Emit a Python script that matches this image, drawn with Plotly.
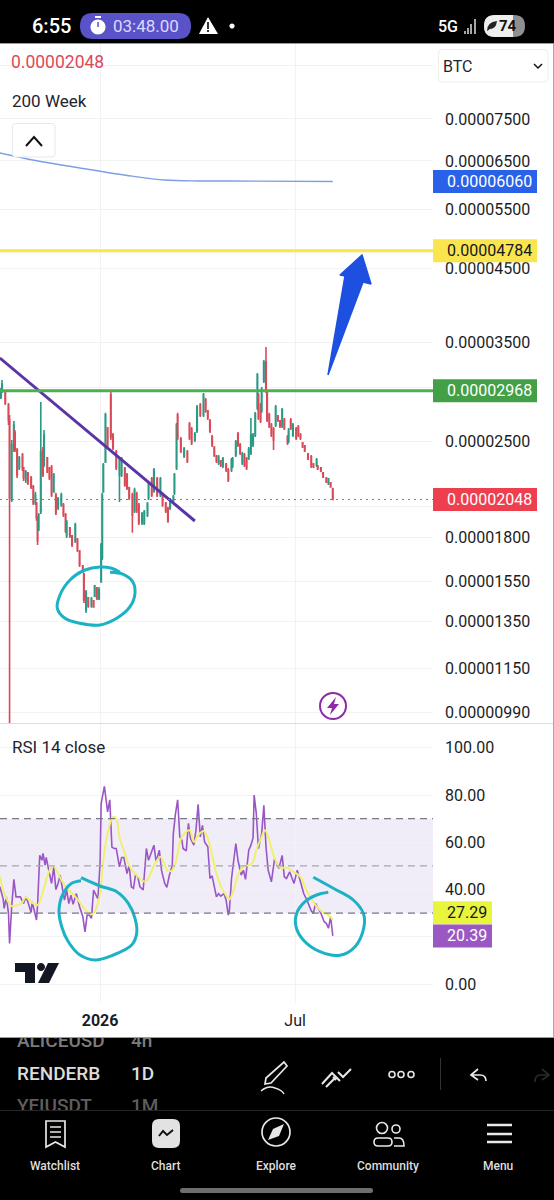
import math
import pandas as pd
import plotly.graph_objects as go

# ---- price data, in units of 0.00000001 BTC ----
candle_day = [-92,-91,-88,-85,-84,-82,-80,-79,-77,-75,
 -72,-71,-69,-67,-64,-62,-60,-59,-58,-57,
 -55,-53,-52,-49,-47,-45,-43,-41,-39,-36,
 -34,-32,-31,-28,-26,-23,-21,-19,-16,-15,
 -13,-11,-8,-6,-5,-3,-1,1,2,3,
 5,7,10,12,15,18,20,23,25,27,
 30,32,34,36,39,41,44,45,48,50,
 53,56,58,61,63,65,68,69,71,72,
 75,78,81,83,85,88,90,93,96,98,
 100,102,104,106,108,110,112,114,117,119,
 122,123,126,128,130,132,134,136,138,140,
 142,144,146,147,149,150,152,154,155,157,
 159,161,163,165,167,169,171,174,175,177,
 179,182,184,186,188,190,193,196,198,201,
 202,205,207,210,212,214,216]
candle_open = [2905,2955,2955,2827,2686,2045,2442,2570,2425,2281,
 2384,2281,2189,2242,2204,2138,2024,2024,1923,1846,
 1963,2425,2304,2360,2281,2288,2102,2080,1990,2010,
 2010,1943,1809,1859,1809,1778,1790,1718,1632,1588,
 1405,1464,1424,1449,1473,1514,1459,1546,1678,2102,
 2328,2614,2925,2552,2409,2227,2227,2281,2227,2131,
 2080,1969,2087,2010,1891,1891,1943,2059,2197,2109,
 2197,2080,2080,2024,1983,1990,2038,2095,2281,2733,
 2517,2376,2409,2650,2605,2509,2587,2827,2733,2876,
 2771,2686,2535,2450,2376,2320,2336,2296,2312,2265,
 2265,2296,2384,2561,2467,2320,2384,2352,2360,2400,
 2467,2552,2799,2925,2827,2771,3069,3274,2955,2733,
 2641,2605,2641,2724,2677,2632,2686,2535,2501,2686,
 2552,2605,2623,2552,2484,2459,2392,2368,2312,2304,
 2296,2281,2242,2204,2160,2167,2123]
candle_high = [2996,3079,2976,2847,2733,2509,2677,2596,2442,2376,
 2400,2288,2265,2250,2219,2152,2102,2031,1936,1956,
 2857,2450,2596,2368,2288,2304,2242,2095,2066,2095,
 2024,1956,1910,1865,1815,1891,1796,1724,1638,1594,
 1504,1469,1469,1454,1530,1519,1519,1766,2095,2320,
 2752,2623,2976,2570,2425,2368,2368,2288,2242,2138,
 2095,2131,2102,2024,1963,1976,2031,2174,2212,2281,
 2212,2212,2095,2031,1997,2059,2080,2242,2659,2752,
 2535,2450,2425,2668,2623,2578,2827,2847,2945,2896,
 2780,2686,2552,2450,2384,2384,2344,2368,2320,2281,
 2360,2368,2509,2578,2484,2409,2400,2368,2450,2705,
 2570,2761,3154,2945,2847,3006,3296,3446,2976,2752,
 2659,2623,2827,2733,2686,2799,2705,2552,2614,2705,
 2659,2623,2641,2570,2492,2467,2400,2384,2320,2360,
 2304,2288,2250,2212,2204,2174,2131]
candle_low = [2886,2945,2827,2641,900,2031,2409,2409,2204,2265,
 2257,2182,2167,2152,2123,2010,2010,1904,1754,1840,
 1949,2212,2288,2242,2189,2066,2095,1943,1976,1997,
 1930,1828,1796,1796,1742,1766,1712,1627,1594,1439,
 1391,1415,1415,1415,1469,1454,1454,1541,1666,2095,
 2320,2450,2509,2425,2265,2031,2212,2138,2116,2045,
 1828,1956,1956,1878,1878,1878,1930,2045,2066,2095,
 2066,2066,1997,1956,1891,1976,2024,2080,2265,2509,
 2400,2360,2320,2509,2467,2492,2570,2714,2714,2752,
 2686,2570,2450,2368,2320,2304,2288,2281,2250,2174,
 2250,2281,2368,2450,2384,2304,2288,2265,2344,2384,
 2450,2535,2780,2686,2659,2752,3048,2945,2668,2614,
 2535,2425,2623,2668,2614,2614,2596,2467,2484,2596,
 2535,2509,2535,2509,2442,2409,2344,2281,2281,2288,
 2265,2250,2204,2167,2152,2131,2048]
candle_close = [2955,3037,2847,2686,2059,2467,2641,2425,2227,2360,
 2281,2204,2250,2167,2138,2024,2080,1923,1778,1943,
 2409,2227,2552,2250,2204,2080,2227,1956,2052,2080,
 1943,1840,1897,1809,1754,1878,1724,1638,1599,1454,
 1494,1424,1459,1419,1525,1464,1504,1754,2080,2304,
 2733,2467,2535,2442,2281,2352,2352,2152,2131,2059,
 1943,2116,1969,1891,1949,1963,2017,2160,2080,2265,
 2080,2197,2010,1969,1904,2045,2066,2227,2641,2526,
 2417,2433,2336,2526,2484,2561,2808,2733,2925,2771,
 2705,2587,2467,2384,2336,2368,2304,2352,2265,2189,
 2344,2352,2492,2467,2400,2392,2304,2281,2433,2552,
 2552,2743,3132,2705,2677,2986,3274,2966,2686,2632,
 2552,2509,2808,2686,2632,2780,2614,2484,2596,2614,
 2641,2526,2552,2526,2450,2417,2352,2296,2288,2344,
 2273,2257,2212,2174,2197,2138,2048]

ma200_day = [-93,-60,-20,30,60,90,120,216]
ma200_val = [6680,6510,6350,6170,6090,6070,6070,6060]

trend_day = [-93,88]
trend_val = [3318,1903]

# ---- RSI data ----
rsi_day = [-93,-90,-89,-87,-85,-84,-82,-80,-78,-76,-74,-71,-69,-67,-64,-63,-61,-59,-58,-56,-54,-53,-51,-50,-47,-45,-43,-41,-39,-37,-35,-33,-31,-29,-27,-25,-22,-20,-19,-16,-14,-12,-10,-8,-6,-3,-2,0,1,4,7,9,11,13,15,18,20,22,25,27,29,31,33,35,37,40,43,45,47,50,52,55,57,
 60,62,64,67,68,70,72,74,76,77,80,82,84,87,89,91,93,95,97,100,102,104,106,108,110,112,115,117,119,120,122,124,126,128,131,133,135,138,140,142,143,145,147,150,152,154,156,159,162,166,169,171,173,176,178,180,183,186,189,192,194,196,198,200,203,205,208,210,212,214,216]
rsi_val = [41.2,36.2,32.0,36.9,29.9,17.2,33.0,44.3,36.9,36.9,36.9,34.1,36.9,34.8,30.3,34.8,30.2,27.1,33.4,54.5,52.4,55.3,50.3,53.6,46.8,42.6,49.6,40.0,42.6,46.1,40.5,35.5,39.8,34.1,37.6,33.8,38.3,34.1,32.7,28.5,22.1,29.2,29.2,27.8,39.8,36.9,36.2,51.0,76.4,83.7,72.9,78.0,58.0,57.4,57.4,49.6,53.6,53.6,46.8,50.3,41.2,40.5,46.5,45.4,41.2,39.8,57.4,52.4,55.0,58.8,51.7,56.7,48.2,
 42.6,40.9,45.4,50.3,63.7,72.2,78.0,62.3,60.9,57.4,56.4,68.0,61.6,58.8,65.1,76.1,62.3,67.2,60.2,58.1,44.7,45.8,41.2,36.9,38.3,37.2,38.3,35.5,29.2,31.0,44.7,52.4,59.5,52.4,46.1,48.2,44.3,56.7,58.8,62.0,80.0,72.2,57.4,63.7,75.7,58.1,48.2,43.3,53.1,48.9,54.5,45.4,44.7,47.5,44.7,42.6,48.2,42.6,38.3,35.5,33.4,31.0,29.9,34.1,31.6,29.9,26.4,25.7,23.6,28.5,20.39]
sma_day = [-93,-90,-87,-82,-77,-73,-69,-63,-58,-54,-50,-46,-43,-39,-34,-29,-23,-17,-12,-7,-3,0,3,7,12,15,18,23,26,31,37,42,46,51,56,
 63,67,71,74,77,83,87,91,96,100,104,108,113,118,120,124,128,133,141,145,150,153,157,161,167,173,180,186,190,195,200,206,212,216]
sma_val = [45.4,39.8,36.2,33.0,33.4,34.1,36.7,34.4,33.4,37.6,44.0,48.9,49.9,46.8,42.6,39.8,37.0,33.4,30.6,29.6,32.7,38.3,52.4,63.7,70.8,70.0,62.3,55.3,51.0,47.5,44.7,43.3,46.1,51.0,53.8,
 47.9,48.2,53.1,60.2,63.0,65.1,60.2,63.0,64.8,61.6,54.5,46.8,40.5,36.9,35.8,39.8,46.1,49.6,51.0,56.7,62.3,65.1,60.9,54.5,49.3,49.3,47.5,45.4,41.2,36.9,33.4,30.6,29.2,27.29]

price_ticks = [9000,7500,6500,5500,4500,3500,3000,2500,2000,1800,1550,1350,1150,990]
hidden_price_labels = [9000,3000,2000]   # covered by the dropdown and by value tags in the reference
rsi_ticks = [100,80,60,40,20,0]
rsi_tick_labels = ["100.00","80.00","60.00","40.00","","0.00"]
month_ticks = ["2026-01-01","2026-07-01"]
month_labels = ["<b>2026</b>","Jul"]

last_price = 2048
level_ma = 6060
level_yellow = 4784
level_green = 2968
rsi_last = 20.39
sma_last = 27.29
rsi_lines = [70,50,30]

W, H = 554, 1200
FONT = "Roboto"
INK = "#1a1d26"

def dates(days):
    return pd.Timestamp("2026-01-01") + pd.to_timedelta(days, unit="D")

def sats(vals):
    return [v * 1e-8 for v in vals]

def pane(top, bottom):
    return [1 - bottom / H, 1 - top / H]

X_RANGE = ["2025-09-30 03:00", "2026-11-06 00:00"]
PANE_END = 433 / W

fig = go.Figure()

# ---- price pane ----
fig.add_trace(go.Candlestick(
    x=dates(candle_day), open=sats(candle_open), high=sats(candle_high),
    low=sats(candle_low), close=sats(candle_close),
    increasing=dict(line=dict(color="#2b9a85", width=1.6), fillcolor="#2b9a85"),
    decreasing=dict(line=dict(color="#d94a58", width=1.6), fillcolor="#d94a58"),
    whiskerwidth=0, showlegend=False, xaxis="x", yaxis="y"))
fig.add_trace(go.Scatter(x=dates(ma200_day), y=sats(ma200_val), mode="lines",
    line=dict(color="#7e9fe4", width=1.4, shape="spline"), showlegend=False, xaxis="x", yaxis="y"))
fig.add_trace(go.Scatter(x=dates(trend_day), y=sats(trend_val), mode="lines",
    line=dict(color="#5b35a8", width=3), showlegend=False, xaxis="x", yaxis="y"))

# ---- RSI pane ----
fig.add_trace(go.Scatter(x=dates(rsi_day), y=rsi_val, mode="lines",
    line=dict(color="#9a56c4", width=1.6), showlegend=False, xaxis="x2", yaxis="y2"))
fig.add_trace(go.Scatter(x=dates(sma_day), y=sma_val, mode="lines",
    line=dict(color="#eef06e", width=2, shape="spline"), showlegend=False, xaxis="x2", yaxis="y2"))

# ---- hand-drawn marks, on an overlay scale the size of the screenshot ----
ring_price_x = [120,111.7,100,85,70,60,57.3,65,80,100,116.7,130,135,132.7,123.3,110]
ring_price_y = [572.3,568.3,567,570,580,595,608.3,618.3,623.3,625,618.3,606.7,593.3,581.7,574.3,572.3]
ring_rsi_a_x = [81,100,116.7,128.3,135,136.7,131.7,113.3,95,80,68.3,61.7,59,63.3,71.7,81]
ring_rsi_a_y = [877.7,886,891.7,903.3,918.3,933.3,945,955,960,955,941.7,926.7,910,893.3,883.3,880.7]
ring_rsi_b_x = [313.3,333.3,353.3,363.3,364,355,340,320,303.3,296,296.7,305,316.7,328.3]
ring_rsi_b_y = [877.3,888.3,900,913.3,926.7,946.7,955.3,951.7,940,926.7,913.3,901.7,895,892.3]
for rx, ry in [(ring_price_x, ring_price_y), (ring_rsi_a_x, ring_rsi_a_y), (ring_rsi_b_x, ring_rsi_b_y)]:
    fig.add_trace(go.Scatter(x=rx, y=ry, mode="lines",
        line=dict(color="#1cb2c6", width=3, shape="spline", smoothing=1.0),
        showlegend=False, xaxis="x3", yaxis="y3"))
arrow_x = [328,345,340,362,371,363,328]
arrow_y = [375,276,275,255,284,282,375]
fig.add_trace(go.Scatter(x=arrow_x, y=arrow_y, mode="lines", fill="toself", fillcolor="#1d4fe0",
    line=dict(color="#1d4fe0", width=1.5), showlegend=False, xaxis="x3", yaxis="y3"))

# ---- clipped watchlist rows behind the toolbar ----
strip_x = [17,131,17,131,17,131]
strip_y = [1042,1042,1075,1075,1107,1107]
strip_text = ["ALICEUSD","4h","RENDERB","1D","YFIUSDT","1M"]
strip_color = ["#7c7c7c","#7c7c7c","#dcdcdc","#dcdcdc","#5e5e5e","#5e5e5e"]
fig.add_trace(go.Scatter(x=strip_x, y=strip_y, mode="text", text=strip_text, textposition="middle right",
    textfont=dict(family=FONT, size=19, color=strip_color, weight=500), showlegend=False, xaxis="x4", yaxis="y4"))

shapes, annos = [], []

def label(x, y, text, size=16, color=INK, anchor="left", yref="y3", weight=None):
    fam = dict(family=FONT, size=size, color=color)
    if weight:
        fam["weight"] = weight
    annos.append(dict(x=x, y=y, xref="x3", yref=yref, text=text, showarrow=False, xanchor=anchor,
                      yanchor="middle", font=fam, borderpad=0, borderwidth=0))

def path(d, fill=None, line=None, width=1.5, layer="above"):
    s = dict(type="path", path=d, xref="x3", yref="y3", layer=layer,
             line=dict(color=line or "rgba(0,0,0,0)", width=width if line else 0))
    if fill:
        s["fillcolor"] = fill
    shapes.append(s)

def rrect(x0, y0, x1, y1, r):
    return (f"M{x0+r} {y0} H{x1-r} Q{x1} {y0} {x1} {y0+r} V{y1-r} Q{x1} {y1} {x1-r} {y1} "
            f"H{x0+r} Q{x0} {y1} {x0} {y1-r} V{y0+r} Q{x0} {y0} {x0+r} {y0} Z")

def circle(cx, cy, r):
    k = 0.5523 * r
    return (f"M{cx-r} {cy} C{cx-r} {cy-k} {cx-k} {cy-r} {cx} {cy-r} "
            f"C{cx+k} {cy-r} {cx+r} {cy-k} {cx+r} {cy} "
            f"C{cx+r} {cy+k} {cx+k} {cy+r} {cx} {cy+r} "
            f"C{cx-k} {cy+r} {cx-r} {cy+k} {cx-r} {cy} Z")

# screen backgrounds, under everything
for y0, y1 in [(0, 43), (1038, 1200)]:
    shapes.append(dict(type="rect", xref="paper", yref="paper", x0=0, x1=1, y0=1-y1/H, y1=1-y0/H,
                       fillcolor="#000000", line=dict(width=0), layer="below"))
shapes.append(dict(type="line", xref="paper", yref="paper", x0=0, x1=1, y0=1-43.5/H, y1=1-43.5/H, line=dict(color="#9a9a9a", width=1), layer="below"))
shapes.append(dict(type="line", xref="paper", yref="paper", x0=0, x1=1, y0=1-1037.5/H, y1=1-1037.5/H, line=dict(color="#9a9a9a", width=1), layer="below"))
shapes.append(dict(type="line", xref="paper", yref="paper", x0=553.5/W, x1=553.5/W, y0=1-1038/H, y1=1-44/H, line=dict(color="#a8a8a8", width=1), layer="below"))
shapes.append(dict(type="line", xref="paper", yref="paper", x0=0, x1=553/W, y0=1-723.5/H, y1=1-723.5/H, line=dict(color="#dcdde0", width=1), layer="below"))

# RSI band and its dashed guides
shapes.append(dict(type="rect", xref="x2 domain", yref="y2", x0=0, x1=1, y0=rsi_lines[2], y1=rsi_lines[0],
                   fillcolor="rgba(126,87,194,0.11)", line=dict(width=0), layer="below"))
for lv, col in zip(rsi_lines, ["#777a85", "#a9a5b0", "#777a85"]):
    shapes.append(dict(type="line", xref="x2 domain", yref="y2", x0=0, x1=1, y0=lv, y1=lv,
                       line=dict(color=col, width=1.2, dash="7px,5px"), layer="above"))

# price levels
for lv, col, wd, ds in [(level_yellow, "#fbe54e", 3, "solid"), (level_green, "#4caf50", 3, "solid"), (last_price, "#ea4a58", 1, "2px,4px")]:
    shapes.append(dict(type="line", xref="x domain", yref="y", x0=0, x1=1, y0=lv*1e-8, y1=lv*1e-8,
                       line=dict(color=col, width=wd, dash=ds), layer="above"))

# value tags on the axes
TAG_HALF_DECADES = 11.5 / 675   # half a tag's height on the log price scale
def price_tag(value, fill, color):
    v = value * 1e-8
    shapes.append(dict(type="rect", xref="paper", yref="y", x0=433/W, x1=537/W,
                       y0=v * 10 ** -TAG_HALF_DECADES, y1=v * 10 ** TAG_HALF_DECADES,
                       fillcolor=fill, line=dict(width=0), layer="above"))
    annos.append(dict(xref="paper", yref="y", x=445/W, xanchor="left", yanchor="middle",
                      y=math.log10(v), text=f"{v:.8f}", showarrow=False,
                      font=dict(family=FONT, size=16, color=color)))

def rsi_tag(value, text, fill, color):
    shapes.append(dict(type="rect", xref="paper", yref="y2", ysizemode="pixel", yanchor=value,
                       x0=433/W, x1=492/W, y0=-11.5, y1=11.5,
                       fillcolor=fill, line=dict(width=0), layer="above"))
    annos.append(dict(xref="paper", yref="y2", x=445/W, xanchor="left", yanchor="middle",
                      y=value, text=text, showarrow=False, font=dict(family=FONT, size=16, color=color)))

price_tag(level_ma, "#2962e8", "#ffffff")
price_tag(level_yellow, "#fbe54e", "#131722")
price_tag(level_green, "#43a047", "#ffffff")
price_tag(last_price, "#ee3f4f", "#ffffff")
rsi_tag(30.2, f"{sma_last:.2f}", "#e9f53c", "#131722")
rsi_tag(rsi_last, f"{rsi_last:.2f}", "#9b58c2", "#ffffff")

# chart overlays
label(11, 62, f"{last_price*1e-8:.8f}", size=17.5, color="#e0485a")
label(12, 101, "200 Week", size=17, color="#1f2430")
path(rrect(12.5, 123.5, 55, 157, 3), fill="#ffffff", line="#e6e7ea", width=1)
path("M26 146 L34 137 L42 146", line="#111111", width=2)
path(rrect(438.5, 49.5, 548, 82, 4), fill="#ffffff", line="#eceded", width=1)
label(443, 66, "BTC", size=16, color="#1f2430")
path("M534 64 L538 68 L542 64", line="#111111", width=1.5)
label(12, 747, "RSI 14 close", size=17, color="#1f2430")
path(circle(333, 706, 13), fill="#ffffff", line="#8e2aa8", width=2)
path("M336 697 L327 708 L332 708 L330 715 L339 704 L334 704 Z", fill="#8e2aa8")
path("M15 963 H35 V983 H25 V972 H15 Z", fill="#131722")
path(circle(41, 967, 4), fill="#131722")
path("M48 963 H59 L49 983 H38 Z", fill="#131722")

# status bar
label(32, 26, "6:55", size=20, color="#ffffff", weight=500)
path(rrect(80, 13, 191, 39, 13), fill="#5a52c9")
path(circle(98, 27, 7.5), fill="#ffffff")
path("M95 16 H101 V18 H95 Z", fill="#ffffff")
path("M98 22 V27", line="#5a52c9", width=1.5)
label(113, 26, "03:48.00", size=17, color="#dcd9ff")
path("M208 17 L218 34 H199 Z", fill="#ffffff")
path("M207.2 22 H208.8 V29 H207.2 Z M207.2 30 H208.8 V32 H207.2 Z", fill="#000000")
path(circle(232, 26, 2.6), fill="#ffffff")
label(438, 26, "5G", size=16, color="#ffffff", weight=500)
path("M465 31 V34 M468 28 V34 M471 24 V34 M475 19 V34", line="#dddddd", width=1.5)
path(rrect(484, 15, 525, 37, 11), fill="#8f8f8f")
path("M495 15 H513 V37 H495 Q484 37 484 26 Q484 15 495 15 Z", fill="#eeeeee")
path("M487 31 Q487 22 497 21 Q496 29 490 29 Z", fill="#222222")
label(508, 26, "<b>74</b>", size=15, color="#111111", anchor="center")

# toolbar
path("M284 1062 L287 1066 L271 1083 L265 1084 L266 1078 Z", line="#e8e8e8", width=1.7)
path("M261 1091 Q268 1085 275 1088 Q282 1090 284 1094", line="#e8e8e8", width=1.5)
path("M322 1084 L332 1073 L340 1081 M326 1087 L334 1079 M338 1072 L343 1077 L351 1069 M333 1077 L336 1080", line="#e8e8e8", width=2)
for cx in (392, 401, 411):
    path(circle(cx, 1074.5, 3), line="#e8e8e8", width=1.6)
path("M440.5 1058 V1090", line="#333333", width=1)
path("M478 1069 L471 1075 L478 1080 M471 1075 H480 Q486 1075 486 1081", line="#e8e8e8", width=1.7)
path("M542 1069 L549 1075 L542 1080 M549 1075 H540 Q535 1075 535 1082", line="#2a2a2a", width=1.7)
shapes.append(dict(type="line", xref="paper", yref="paper", x0=0, x1=1, y0=1-1110.5/H, y1=1-1110.5/H,
                   line=dict(color="#262626", width=1), layer="above"))

# bottom navigation
nav = ["Watchlist","Chart","Explore","Community","Menu"]
nav_x = [55,166,276,388,498]
for t, x in zip(nav, nav_x):
    label(x, 1166, t, size=12, color="#dedede", anchor="center", weight=500)
path("M46 1121 H65 V1147 L55.5 1142 L46 1147 Z", line="#e8e8e8", width=1.7)
path("M50 1127 H61 M50 1132 H61 M50 1137 H61", line="#e8e8e8", width=1.5)
path(rrect(152, 1119, 180, 1148, 7), fill="#e2e2e2")
path("M159 1136 L163 1131 L167 1135 L173 1130", line="#111111", width=2)
path(circle(276, 1132, 14), line="#e8e8e8", width=1.7)
path("M284 1124 L279 1136 L268 1140 L273 1129 Z", fill="#e8e8e8")
path(circle(382, 1128, 5.5), line="#e8e8e8", width=1.6)
path(circle(396, 1129, 4), line="#e8e8e8", width=1.6)
path(rrect(374, 1138, 392, 1146, 4), line="#e8e8e8", width=1.6)
path("M394 1138 H399 Q404 1138 404 1146 H394", line="#e8e8e8", width=1.6)
path("M487 1125 H512 M487 1134 H512 M487 1142 H512", line="#e8e8e8", width=2.5)
path(rrect(180, 1188, 373, 1193, 2.5), fill="#6e6e6e")

grid = "#f1f2f4"
fig.update_layout(
    width=W, height=H, autosize=False, margin=dict(l=0, r=0, t=0, b=0),
    paper_bgcolor="#ffffff", plot_bgcolor="rgba(0,0,0,0)", showlegend=False,
    font=dict(family=FONT, size=16, color=INK), hovermode=False,
    shapes=shapes, annotations=annos,
    xaxis=dict(domain=[0, PANE_END], range=X_RANGE, type="date", anchor="y", rangeslider=dict(visible=False),
               tickvals=month_ticks, ticktext=["", ""], showgrid=True, gridcolor=grid, zeroline=False,
               showline=False, ticks=""),
    yaxis=dict(domain=pane(44, 723), type="log", range=[-8+2.9802, -8+3.9861], side="right", anchor="x",
               tickmode="array", tickvals=sats(price_ticks),
               ticktext=["" if v in hidden_price_labels else f"{v*1e-8:.8f}" for v in price_ticks],
               tickfont=dict(family=FONT, size=16, color=INK), ticklabelstandoff=11,
               showgrid=True, gridcolor=grid, zeroline=False, showline=False, ticks=""),
    xaxis2=dict(domain=[0, PANE_END], range=X_RANGE, type="date", anchor="y2",
                tickvals=month_ticks, ticktext=month_labels, tickfont=dict(family=FONT, size=16, color=INK),
                ticklabelstandoff=6, showgrid=True, gridcolor=grid, zeroline=False, showline=False, ticks=""),
    yaxis2=dict(domain=pane(724, 1003), range=[-8.03, 110.1], side="right", anchor="x2",
                tickmode="array", tickvals=rsi_ticks, ticktext=rsi_tick_labels,
                tickfont=dict(family=FONT, size=16, color=INK), ticklabelstandoff=11,
                showgrid=True, gridcolor=grid, zeroline=False, showline=False, ticks=""),
    xaxis3=dict(domain=[0, 1], range=[0, W], anchor="y3", visible=False, fixedrange=True),
    yaxis3=dict(domain=[0, 1], range=[H, 0], anchor="x3", visible=False, fixedrange=True),
    xaxis4=dict(domain=[0, 1], range=[0, W], anchor="y4", visible=False, fixedrange=True),
    yaxis4=dict(domain=pane(1038, 1110), range=[1110, 1038], anchor="x4", visible=False, fixedrange=True),
)

fig.write_html("out.html", config=dict(displayModeBar=False),
               post_script="document.body.style.margin='0';")
